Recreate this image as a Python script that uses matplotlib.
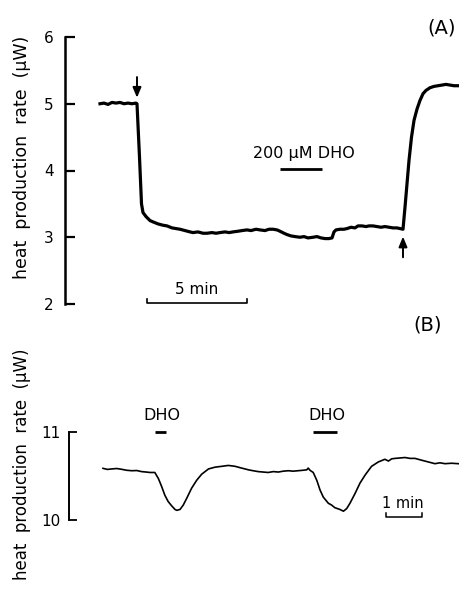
import matplotlib
matplotlib.use("Agg")
import matplotlib.pyplot as plt

plt.rcParams['font.family'] = ['DejaVu Sans']

# ---------------- Panel A data (time in min, heat production in uW) -------------
tA = [0.00, 0.20, 0.40, 0.60, 0.80, 1.00, 1.20, 1.40, 1.60, 1.80, 1.85, 1.975,
      2.075, 2.15, 2.30, 2.50, 2.65, 2.90, 3.15, 3.35, 3.60, 3.80, 4.00, 4.25,
      4.50, 4.65, 4.90, 5.15, 5.35, 5.60, 5.80, 6.00, 6.25, 6.45, 6.65, 6.90,
      7.10, 7.35, 7.55, 7.80, 8.00, 8.25, 8.45, 8.65, 8.85, 9.00, 9.20, 9.35,
      9.55, 9.75, 10.00, 10.20, 10.40, 10.65, 10.85, 11.05, 11.25, 11.45, 11.60,
      11.70, 11.80, 12.00, 12.20, 12.35, 12.55, 12.75, 12.90, 13.10, 13.30,
      13.45, 13.65, 13.85, 14.05, 14.25, 14.45, 14.65, 14.85, 15.00, 15.15,
      15.25, 15.35, 15.45, 15.575, 15.70, 15.85, 16.00, 16.15, 16.30, 16.50,
      16.70, 16.90, 17.10, 17.30, 17.50, 17.70, 17.90]
vA = [5.00, 5.01, 4.99, 5.02, 5.01, 5.02, 5.00, 5.01, 5.00, 5.01, 5.00, 4.20,
      3.50, 3.37, 3.31, 3.25, 3.23, 3.20, 3.18, 3.17, 3.14, 3.13, 3.12, 3.10,
      3.08, 3.07, 3.08, 3.06, 3.06, 3.07, 3.06, 3.07, 3.08, 3.07, 3.08, 3.09,
      3.10, 3.11, 3.10, 3.12, 3.11, 3.10, 3.12, 3.12, 3.11, 3.09, 3.06, 3.04,
      3.02, 3.01, 3.00, 3.01, 2.99, 3.00, 3.01, 2.99, 2.98, 2.98, 2.99,
      3.08, 3.11, 3.12, 3.12, 3.13, 3.15, 3.14, 3.17, 3.17, 3.16,
      3.17, 3.17, 3.16, 3.15, 3.16, 3.15, 3.14, 3.14, 3.13, 3.12,
      3.45, 3.80, 4.15, 4.50, 4.75, 4.92, 5.05, 5.15, 5.20, 5.24,
      5.26, 5.27, 5.28, 5.29, 5.28, 5.27, 5.27]
yticksA = [2, 3, 4, 5, 6]
arrow_down_A = 1.85
arrow_up_A = 15.15
dho_bar_A = (9.0, 11.1)
scale_A = (2.35, 7.35)   # 5 min

# ---------------- Panel B data --------------------------------------------------
tB = [0.00, 0.12, 0.24, 0.38, 0.52, 0.66, 0.80, 0.94, 1.07, 1.20, 1.31, 1.44,
      1.54, 1.63, 1.72, 1.81, 1.91, 2.00, 2.05, 2.14, 2.23, 2.33, 2.46, 2.60,
      2.74, 2.93, 3.02, 3.11, 3.20, 3.30, 3.39, 3.48, 3.58, 3.67, 3.76, 3.85,
      3.95, 4.04, 4.17, 4.31, 4.45, 4.59, 4.73, 4.87, 5.01, 5.15, 5.28, 5.42,
      5.55, 5.66, 5.70, 5.75, 5.84, 5.94, 6.03, 6.12, 6.26, 6.35, 6.44, 6.58,
      6.68, 6.77, 6.86, 7.00, 7.14, 7.28, 7.46, 7.65, 7.83, 7.93, 8.02, 8.11,
      8.25, 8.39, 8.53, 8.67, 8.80, 8.94, 9.08, 9.22, 9.36, 9.50, 9.68, 9.87]
vB = [10.587, 10.575, 10.58, 10.585, 10.576, 10.565, 10.56, 10.562, 10.55,
      10.545, 10.54, 10.54, 10.47, 10.38, 10.28, 10.21, 10.16, 10.12, 10.11,
      10.12, 10.17, 10.25, 10.36, 10.45, 10.52, 10.58, 10.59, 10.60, 10.605,
      10.61, 10.615, 10.62, 10.615, 10.61, 10.60, 10.59, 10.58, 10.57, 10.56,
      10.55, 10.545, 10.54, 10.55, 10.545, 10.555, 10.56, 10.555, 10.56, 10.565,
      10.57, 10.59, 10.565, 10.54, 10.45, 10.34, 10.26, 10.19, 10.17, 10.14,
      10.12, 10.10, 10.13, 10.19, 10.30, 10.42, 10.51, 10.61, 10.66, 10.69,
      10.67, 10.695, 10.70, 10.705, 10.71, 10.70, 10.70, 10.685, 10.67, 10.655,
      10.64, 10.65, 10.64, 10.645, 10.64]
yticksB = [10, 11]
dho_bars_B = [(1.44, 1.75), (5.83, 6.50)]
scale_B = (7.86, 8.86)   # 1 min

W, H = 460, 595
fig = plt.figure(figsize=(W / 100, H / 100), dpi=100)

# ---------------- Panel A -------------------------------------------------------
axA = fig.add_axes([65 / W, (H - 304) / H, (W - 65) / W, 267 / H])
axA.plot(tA, vA, color='black', lw=2.3, solid_joinstyle='round')
axA.set_xlim(-1.75, 18.0)
axA.set_ylim(2, 6)
axA.set_yticks(yticksA)
for s in ['top', 'right', 'bottom']:
    axA.spines[s].set_visible(False)
axA.spines['left'].set_linewidth(1.8)
axA.set_xticks([])
axA.tick_params(axis='y', direction='in', length=7, width=1.6, pad=8,
                labelsize=11)

axA.annotate('', xy=(arrow_down_A, 5.09), xytext=(arrow_down_A, 5.40),
             arrowprops=dict(arrowstyle='-|>,head_width=0.25,head_length=0.6',
                             lw=1.4, color='black',
                             mutation_scale=10, shrinkA=0, shrinkB=0))
axA.annotate('', xy=(arrow_up_A, 3.01), xytext=(arrow_up_A, 2.70),
             arrowprops=dict(arrowstyle='-|>,head_width=0.25,head_length=0.6',
                             lw=1.4, color='black',
                             mutation_scale=10, shrinkA=0, shrinkB=0),
             annotation_clip=False)
axA.plot(dho_bar_A, [4.02, 4.02], color='black', lw=2.0, solid_capstyle='butt')
axA.text(10.2, 4.25, '200 μM DHO', ha='center', va='center', fontsize=11.5)
axA.plot([scale_A[0], scale_A[0], scale_A[1], scale_A[1]],
         [2.08, 2.015, 2.015, 2.08], color='black', lw=1.2, clip_on=False)
axA.text(sum(scale_A) / 2, 2.21, '5 min', ha='center', va='center',
         fontsize=11)

# ---------------- Panel B -------------------------------------------------------
axB = fig.add_axes([69 / W, (H - 520) / H, (W - 69) / W, 88 / H])
axB.plot(tB, vB, color='black', lw=1.2)
axB.set_xlim(-0.944, 9.917)
axB.set_ylim(10, 11)
axB.set_yticks(yticksB)
for s in ['top', 'right', 'bottom']:
    axB.spines[s].set_visible(False)
axB.spines['left'].set_linewidth(1.4)
axB.set_xticks([])
axB.tick_params(axis='y', direction='in', length=6, width=1.3, pad=6,
                labelsize=11)
for b in dho_bars_B:
    axB.plot(b, [11.0, 11.0], color='black', lw=2.0, clip_on=False,
             solid_capstyle='butt')
    axB.text(sum(b) / 2 + 0.05, 11.19, 'DHO', ha='center', va='center',
             fontsize=11.5)
axB.plot([scale_B[0], scale_B[0], scale_B[1], scale_B[1]],
         [10.08, 10.034, 10.034, 10.08], color='black', lw=1.1, clip_on=False)
axB.text(sum(scale_B) / 2 - 0.03, 10.19, '1 min', ha='center', va='center',
         fontsize=10.5)

# ---------------- Labels --------------------------------------------------------
ylab = 'heat  production  rate  (μW)'
fig.text(22 / W, 1 - 157 / H, ylab, rotation=90, ha='center', va='center',
         fontsize=12.5)
fig.text(22 / W, 1 - 464 / H, ylab, rotation=90, ha='center', va='center',
         fontsize=12)
fig.text(442 / W, 1 - 28.5 / H, '(A)', ha='center', va='center', fontsize=14)
fig.text(427.5 / W, 1 - 325 / H, '(B)', ha='center', va='center', fontsize=14)

fig.savefig('out.png', dpi=100)
